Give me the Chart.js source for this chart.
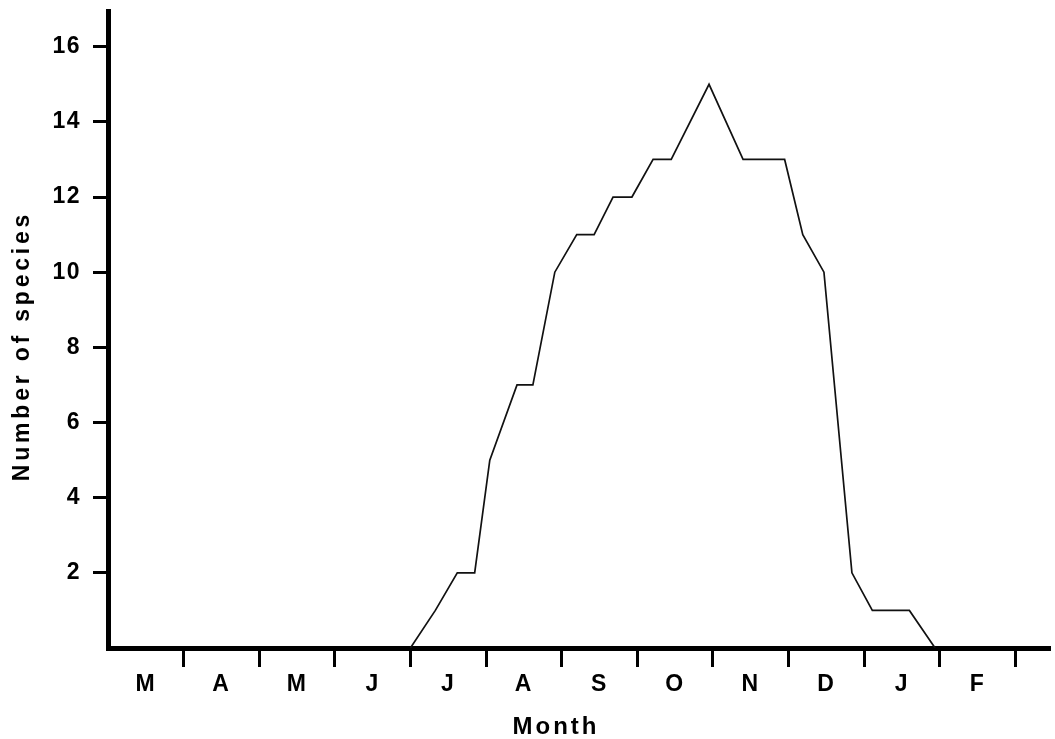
<!DOCTYPE html>
<html>
<head>
<meta charset="utf-8">
<script src="https://cdn.jsdelivr.net/npm/chart.js@4/dist/chart.umd.min.js"></script>
<style>
  html, body { margin: 0; padding: 0; background: #fff; }
  #wrap { width: 1055px; height: 739px; }
</style>
</head>
<body>
<div id="wrap"><canvas id="c" width="1055" height="739"></canvas></div>
<script>
// Month labels (March to February), each occupies one unit on the x axis
const months = ['M', 'A', 'M', 'J', 'J', 'A', 'S', 'O', 'N', 'D', 'J', 'F'];
// Position along the time axis (in months from start of March)
const monthPos = [4.0, 4.33, 4.62, 4.85, 5.05, 5.41, 5.62, 5.91, 6.20, 6.43, 6.68, 6.93, 7.21, 7.45, 7.95, 8.40, 8.95, 9.19, 9.47, 9.84, 10.11, 10.60, 10.94];
// Number of species at each position
const speciesCount = [0, 1, 2, 2, 5, 7, 7, 10, 11, 11, 12, 12, 13, 13, 15, 13, 13, 11, 10, 2, 1, 1, 0];
// Y tick labels
const yTicks = [2, 4, 6, 8, 10, 12, 14, 16];

const FONT = '"Liberation Sans", Arial, Helvetica, sans-serif';

const points = monthPos.map((x, i) => ({ x: x, y: speciesCount[i] }));

const titlePlugin = {
  id: 'titles',
  beforeDraw(chart) {
    chart.ctx.letterSpacing = '1.5px';
  },
  afterDraw(chart) {
    const ctx = chart.ctx;
    ctx.save();
    ctx.fillStyle = '#000';
    ctx.textAlign = 'center';
    ctx.textBaseline = 'middle';
    ctx.letterSpacing = '3px';
    ctx.font = 'bold 24px ' + FONT;
    ctx.fillText('Month', 556, 727);
    ctx.letterSpacing = '3.8px';
    ctx.font = 'bold 23px ' + FONT;
    ctx.translate(23, 346);
    ctx.rotate(-Math.PI / 2);
    ctx.fillText('Number of species', 0, 0);
    ctx.restore();
  }
};

new Chart(document.getElementById('c'), {
  type: 'line',
  data: {
    datasets: [{
      data: points,
      borderColor: '#111',
      borderWidth: 1.7,
      pointRadius: 0,
      fill: false,
      tension: 0
    }]
  },
  options: {
    responsive: false,
    animation: false,
    devicePixelRatio: 1,
    layout: { padding: { top: 11, right: 5, left: 0, bottom: 0 } },
    plugins: { legend: { display: false }, tooltip: { enabled: false } },
    scales: {
      x: {
        type: 'linear',
        min: 0,
        max: 12.46,
        afterBuildTicks(scale) {
          const t = [];
          for (let i = 0; i < months.length; i++) {
            t.push({ value: i + 0.5 });
            t.push({ value: i + 1 });
          }
          scale.ticks = t;
        },
        afterFit(scale) { scale.height = 91; scale.paddingLeft = 0; scale.paddingRight = 0; },
        border: { display: true, color: '#000', width: 5 },
        grid: {
          drawOnChartArea: false,
          drawTicks: true,
          tickLength: 19,
          tickWidth: 3,
          tickColor: (ctx) => (ctx.tick && Number.isInteger(ctx.tick.value)) ? '#000' : 'rgba(0,0,0,0)'
        },
        ticks: {
          autoSkip: false,
          maxRotation: 0,
          minRotation: 0,
          padding: 4,
          color: '#000',
          font: { family: FONT, size: 23, weight: 'bold' },
          callback: (v) => Number.isInteger(v) ? '' : months[Math.floor(v)]
        },
        title: { display: false }
      },
      y: {
        type: 'linear',
        min: 0,
        max: 16.95,
        afterBuildTicks(scale) {
          scale.ticks = yTicks.map(v => ({ value: v }));
        },
        afterFit(scale) { scale.width = 108; scale.paddingTop = 0; scale.paddingBottom = 0; },
        border: { display: true, color: '#000', width: 5 },
        grid: {
          drawOnChartArea: false,
          drawTicks: true,
          tickLength: 15,
          tickWidth: 3,
          tickColor: '#000'
        },
        ticks: {
          padding: 12,
          color: '#000',
          font: { family: FONT, size: 23, weight: 'bold' }
        },
        title: { display: false }
      }
    }
  },
  plugins: [titlePlugin]
});
</script>
</body>
</html>
